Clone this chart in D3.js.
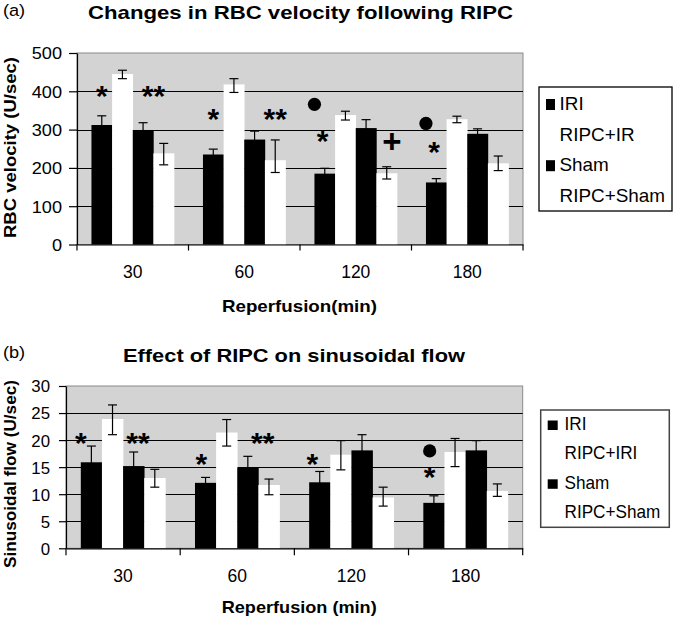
<!DOCTYPE html>
<html><head><meta charset="utf-8">
<script src="https://cdn.jsdelivr.net/npm/d3@7"></script>
<style>
body{margin:0;background:#fff}
svg{display:block}
text{font-family:"Liberation Sans",Arial,Helvetica,sans-serif;fill:#000}
</style>
</head><body>
<svg id="c" width="673" height="617"></svg>
<script>
// ---------- data ----------
const categories = ["30", "60", "120", "180"];
const seriesA = ["IRI", "RIPC+IR", "Sham", "RIPC+Sham"];
const seriesB = ["IRI", "RIPC+IRI", "Sham", "RIPC+Sham"];
const seriesFill = ["#000", "#fff", "#000", "#fff"];

// (a) RBC velocity (U/sec)
const rbcTicks = [0, 100, 200, 300, 400, 500];
const rbcIRI       = [312, 235, 185, 162];
const rbcIRIHi     = [336, 249, 199, 172];
const rbcRIPC      = [445, 418, 338, 327];
const rbcRIPCHi    = [455, 433, 348, 335];
const rbcRIPCLo    = [433, 397, 325, 318];
const rbcSham      = [299, 274, 304, 289];
const rbcShamHi    = [318, 296, 326, 302];
const rbcRIPCSham  = [238, 220, 186, 212];
const rbcRIPCShamHi= [264, 273, 203, 231];
const rbcRIPCShamLo= [208, 188, 171, 193];
const rbcMarks = [
  {cat: "30",  slot: 0.5,  value: 403, label: "*"},
  {cat: "30",  slot: 3.0,  value: 403, label: "**"},
  {cat: "60",  slot: 0.5,  value: 343, label: "*"},
  {cat: "60",  slot: 3.5,  value: 343, label: "**"},
  {cat: "120", slot: 0.0,  value: 366, label: "●"},
  {cat: "120", slot: 0.4,  value: 285, label: "*"},
  {cat: "120", slot: 3.75, value: 268, label: "+"},
  {cat: "180", slot: 0.0,  value: 316, label: "●"},
  {cat: "180", slot: 0.4,  value: 257, label: "*"}
];

// (b) Sinusoidal flow (U/sec)
const sfTicks = [0, 5, 10, 15, 20, 25, 30];
const sfIRI        = [15.9, 12.1, 12.2, 8.4];
const sfIRIHi      = [18.9, 13.1, 14.2, 9.7];
const sfRIPC       = [23.9, 21.4, 17.3, 17.8];
const sfRIPCHi     = [26.5, 23.8, 19.9, 20.3];
const sfRIPCLo     = [21.0, 18.9, 14.5, 15.1];
const sfSham       = [15.2, 14.9, 18.1, 18.1];
const sfShamHi     = [17.8, 17.0, 21.0, 19.9];
const sfRIPCSham   = [13.0, 11.7, 9.4, 10.6];
const sfRIPCShamHi = [14.6, 12.8, 11.3, 11.9];
const sfRIPCShamLo = [11.3, 9.9, 7.8, 9.6];
const sfMarks = [
  {cat: "30",  slot: 0.0,  value: 20.6, label: "*"},
  {cat: "30",  slot: 2.7,  value: 20.6, label: "**"},
  {cat: "60",  slot: 0.3,  value: 16.6, label: "*"},
  {cat: "60",  slot: 3.2,  value: 20.6, label: "**"},
  {cat: "120", slot: 0.15, value: 16.6, label: "*"},
  {cat: "180", slot: 0.3,  value: 18.0, label: "●"},
  {cat: "180", slot: 0.3,  value: 14.2, label: "*"}
];

function mirrorLo(mean, hi) { return mean.map((m, i) => m - (hi[i] - m)); }

const rbcSeries = [
  {mean: rbcIRI, hi: rbcIRIHi, lo: mirrorLo(rbcIRI, rbcIRIHi)},
  {mean: rbcRIPC, hi: rbcRIPCHi, lo: rbcRIPCLo},
  {mean: rbcSham, hi: rbcShamHi, lo: mirrorLo(rbcSham, rbcShamHi)},
  {mean: rbcRIPCSham, hi: rbcRIPCShamHi, lo: rbcRIPCShamLo}
];
const sfSeries = [
  {mean: sfIRI, hi: sfIRIHi, lo: mirrorLo(sfIRI, sfIRIHi)},
  {mean: sfRIPC, hi: sfRIPCHi, lo: sfRIPCLo},
  {mean: sfSham, hi: sfShamHi, lo: mirrorLo(sfSham, sfShamHi)},
  {mean: sfRIPCSham, hi: sfRIPCShamHi, lo: sfRIPCShamLo}
];

// ---------- drawing ----------
const svg = d3.select("#c");
svg.append("rect").attr("width", 673).attr("height", 617).attr("fill", "#fff");

function txt(g, x, y, s, o) {
  const t = g.append("text")
    .attr("transform", `translate(${x},${y}) rotate(${o.rot || 0}) scale(${o.sx || 1},1)`)
    .attr("text-anchor", o.anchor || "start")
    .attr("font-size", o.size)
    .attr("font-weight", o.weight || "normal")
    .text(s);
  if (o.len) t.attr("textLength", o.len).attr("lengthAdjust", "spacingAndGlyphs");
  return t;
}

function panel(cfg) {
  const g = svg.append("g");
  const y = d3.scaleLinear().domain([0, cfg.ticks[cfg.ticks.length - 1]]).range([cfg.y1, cfg.y0]);
  const x = d3.scaleBand().domain(categories).range([cfg.x0, cfg.x1]);
  const bw = x.bandwidth();
  const groupW = bw * 4 / 5.4;
  const off = (bw - groupW) / 2;
  const xs = d3.scaleBand().domain(d3.range(4)).range([off, off + groupW]);
  const barW = xs.bandwidth();

  // plot background
  g.append("rect").attr("x", cfg.x0).attr("y", cfg.y0)
    .attr("width", cfg.x1 - cfg.x0).attr("height", cfg.y1 - cfg.y0)
    .attr("fill", "#d3d3d3").attr("stroke", "#8a8a8a").attr("stroke-width", 1);

  // gridlines
  g.selectAll(".grid").data(cfg.ticks.filter((t, i) => i > 0 && i < cfg.ticks.length - 1))
    .enter().append("line")
    .attr("x1", cfg.x0).attr("x2", cfg.x1)
    .attr("y1", d => Math.round(y(d)) + 0.5).attr("y2", d => Math.round(y(d)) + 0.5)
    .attr("stroke", "#000").attr("stroke-width", 1);

  // bars
  cfg.series.forEach((s, si) => {
    g.selectAll(null).data(categories).enter().append("rect")
      .attr("x", c => x(c) + xs(si))
      .attr("y", (c, i) => y(s.mean[i]))
      .attr("width", barW + 0.3)
      .attr("height", (c, i) => y(0) - y(s.mean[i]))
      .attr("fill", seriesFill[si]);
  });
  // error bars
  cfg.series.forEach((s, si) => {
    categories.forEach((c, i) => {
      const cx = x(c) + xs(si) + barW / 2;
      const eg = g.append("g").attr("stroke", "#000").attr("stroke-width", 1.2);
      eg.append("line").attr("x1", cx).attr("x2", cx).attr("y1", y(s.hi[i])).attr("y2", y(s.lo[i]));
      [s.hi[i], s.lo[i]].forEach(v => {
        eg.append("line").attr("x1", cx - 4.5).attr("x2", cx + 4.5).attr("y1", y(v)).attr("y2", y(v));
      });
    });
  });

  // y axis
  const ya = g.append("g").attr("transform", `translate(${cfg.x0},0)`)
    .call(d3.axisLeft(y).tickValues(cfg.ticks).tickSize(cfg.ytick).tickSizeOuter(0).tickFormat(d3.format("d")));
  ya.select(".domain").attr("stroke", "#000").attr("stroke-width", 1.2);
  ya.selectAll(".tick line").attr("stroke", "#000").attr("stroke-width", 1.2);
  ya.selectAll(".tick text")
    .attr("font-size", cfg.ytSize).attr("font-family", '"Liberation Sans",Arial,sans-serif')
    .attr("fill", "#000")
    .attr("x", -cfg.ytGap / cfg.ytSx).attr("dy", "0.36em")
    .attr("transform", `scale(${cfg.ytSx},1)`);

  // x axis
  const xa = g.append("g").attr("transform", `translate(0,${cfg.y1})`)
    .call(d3.axisBottom(x).tickSize(0).tickSizeOuter(0));
  xa.select(".domain").attr("stroke", "#000").attr("stroke-width", 1.2);
  xa.selectAll(".tick text")
    .attr("font-size", cfg.xtSize).attr("font-family", '"Liberation Sans",Arial,sans-serif')
    .attr("fill", "#000")
    .attr("y", cfg.xtOff).attr("dy", null)
    .attr("transform", `scale(${cfg.xtSx},1)`);
  // boundary ticks
  xa.selectAll(".btick").data(categories.map(c => x(c)).concat([cfg.x1]))
    .enter().append("line")
    .attr("x1", d => d).attr("x2", d => d).attr("y1", 0).attr("y2", cfg.xtick)
    .attr("stroke", "#000").attr("stroke-width", 1.2);

  // annotations
  cfg.marks.forEach(m => {
    const mx = x(m.cat) + off + m.slot * barW;
    const my = y(m.value);
    if (m.label === "●") {
      g.append("circle").attr("cx", mx).attr("cy", my).attr("r", 6.6).attr("fill", "#000");
    } else if (m.label === "+") {
      txt(g, mx, my + 11, m.label, {size: 33, weight: "bold", anchor: "middle"});
    } else {
      txt(g, mx, my + 16, m.label, {size: 30, weight: "bold", anchor: "middle"});
    }
  });

  // titles
  txt(svg, cfg.tag[0], cfg.tag[1], cfg.tagText, {size: 16.5, sx: 1.1});
  txt(svg, cfg.title[0], cfg.title[1], cfg.titleText, {size: 19, weight: "bold", anchor: "middle", len: cfg.title[2]});
  txt(svg, cfg.xTitle[0], cfg.xTitle[1], cfg.xTitleText, {size: 17, weight: "bold", anchor: "middle", len: cfg.xTitle[2]});
  txt(svg, cfg.yTitle[0], cfg.yTitle[1], cfg.yTitleText, {size: 17, weight: "bold", anchor: "middle", rot: -90, len: cfg.yTitle[2]});

  // legend
  const L = cfg.legend;
  svg.append("rect").attr("x", L.x).attr("y", L.y).attr("width", L.w).attr("height", L.h)
    .attr("fill", "#fff").attr("stroke", L.stroke).attr("stroke-width", L.sw);
  cfg.names.forEach((n, i) => {
    const by = L.base + i * L.step;
    svg.append("rect").attr("x", L.sx).attr("y", by - L.sh).attr("width", L.swd).attr("height", L.sh)
      .attr("fill", seriesFill[i]);
    txt(svg, L.tx, by, n, {size: 17.5, sx: L.tsx});
  });
}

panel({
  x0: 77, x1: 523, y0: 53, y1: 244.5, ticks: rbcTicks, series: rbcSeries, marks: rbcMarks, names: seriesA,
  ytick: 8, ytGap: 15, ytSize: 16.5, ytSx: 1.1, xtSize: 17.5, xtSx: 1.0, xtOff: 33.5, xtick: 6,
  tag: [3, 15.5], tagText: "(a)",
  title: [300.5, 18.5, 425], titleText: "Changes in RBC velocity following RIPC",
  xTitle: [299.5, 311.5, 155], xTitleText: "Reperfusion(min)",
  yTitle: [15.5, 147.5, 181], yTitleText: "RBC velocity (U/sec)",
  legend: {x: 539, y: 87, w: 133, h: 124, stroke: "#000", sw: 1.3, base: 110, step: 30.6,
           sx: 546, swd: 9, sh: 11, tx: 559.5, tsx: 1.08}
});

panel({
  x0: 66, x1: 522.7, y0: 386, y1: 548.3, ticks: sfTicks, series: sfSeries, marks: sfMarks, names: seriesB,
  ytick: 7, ytGap: 16, ytSize: 16.5, ytSx: 1.02, xtSize: 17.5, xtSx: 1.0, xtOff: 33.4, xtick: 7,
  tag: [3, 358], tagText: "(b)",
  title: [294, 362, 342], titleText: "Effect of RIPC on sinusoidal flow",
  xTitle: [299.2, 613, 155], xTitleText: "Reperfusion (min)",
  yTitle: [16, 474, 188], yTitleText: "Sinusoidal flow (U/sec)",
  legend: {x: 540.7, y: 410, w: 128.6, h: 117.3, stroke: "#444", sw: 1.5, base: 430, step: 29.4,
           sx: 547.7, swd: 10, sh: 9.5, tx: 564.5, tsx: 0.98}
});
</script>
</body></html>
